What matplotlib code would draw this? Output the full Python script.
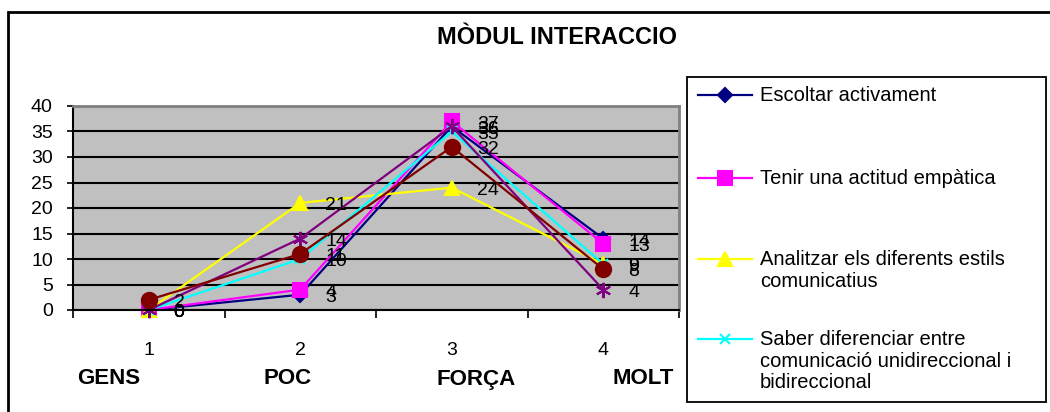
import matplotlib
matplotlib.use("Agg")
import matplotlib.pyplot as plt
from matplotlib.patches import Rectangle

plt.rcParams['font.family'] = ['Liberation Sans', 'DejaVu Sans']

categories = [1, 2, 3, 4]
cat_names = ["GENS", "POC", "FORÇA", "MOLT"]

escoltar = [0, 3, 36, 14]
empatica = [0, 4, 37, 13]
analitzar = [0, 21, 24, 9]
diferenciar = [0, 10, 35, 9]
serie5 = [0, 14, 36, 4]
serie6 = [2, 11, 32, 8]

labels = ["Escoltar activament",
          "Tenir una actitud empàtica",
          "Analitzar els diferents estils\ncomunicatius",
          "Saber diferenciar entre\ncomunicació unidireccional i\nbidireccional",
          "Serie 5", "Serie 6"]
series = [escoltar, empatica, analitzar, diferenciar, serie5, serie6]
colors = ["#000080", "#FF00FF", "#FFFF00", "#00FFFF", "#800080", "#800000"]
markers = ["D", "s", "^", "x", (6, 2, 0), "o"]
msizes = [7, 10.5, 10, 7, 11, 11]

fig = plt.figure(figsize=(10.5, 4.12), dpi=100)
ax = fig.add_axes([73/1050, 1-310/412, 606/1050, 204/412])
ax.set_facecolor("#C0C0C0")

handles = []
for vals, lab, c, m, ms in zip(series, labels, colors, markers, msizes):
    h, = ax.plot(categories, vals, color=c, marker=m, markersize=ms,
                 markeredgewidth=1.5, lw=1.6, label=lab, clip_on=False)
    handles.append(h)
    for x, v in zip(categories, vals):
        ax.annotate(str(v), (x, v), xytext=(18, -2), textcoords="offset points",
                    fontsize=14, va="center", ha="left")

ax.set_xlim(0.5, 4.5)
ax.set_ylim(0, 40)
ax.set_yticks(range(0, 41, 5))
ax.set_xticks(categories)
ax.set_xticklabels([str(c) for c in categories])
ax.set_xticks([0.5, 1.5, 2.5, 3.5, 4.5], minor=True)
ax.tick_params(axis="x", which="major", length=0, pad=23, labelsize=14)
ax.tick_params(axis="x", which="minor", length=6, width=1.2, direction="out")
ax.tick_params(axis="y", length=4.5, width=1.2, labelsize=14, pad=10)
ax.yaxis.grid(True, color="black", lw=1.5)
ax.set_axisbelow(True)
for s in ["top", "right"]:
    ax.spines[s].set_color("#808080")
    ax.spines[s].set_linewidth(2)
for s in ["left", "bottom"]:
    ax.spines[s].set_linewidth(1.5)

for name, xp in zip(cat_names, [109, 288, 476, 643]):
    fig.text(xp/1050, 1-379/412, name, fontsize=16, fontweight="bold",
             ha="center", va="center")

fig.text(557/1050, 1-37/412, "MÒDUL INTERACCIO", fontsize=17,
         fontweight="bold", ha="center", va="center")

# marc del gràfic
fig.patches.append(Rectangle((8/1050, -0.02), 1.1, 1-12/412+0.02,
                             transform=fig.transFigure, fill=False,
                             edgecolor="black", lw=2))

# llegenda estil Excel: el símbol al costat de la primera línia
fig.patches.append(Rectangle((687/1050, 1-402/412), 359/1050, 325/412,
                             transform=fig.transFigure, fill=False,
                             edgecolor="black", lw=1.3))
entry_y = [97, 180, 261, 341]
for h, lab, yy in zip(handles[:4], labels[:4], entry_y):
    fig.legend([h], [""], loc="center", bbox_to_anchor=(725/1050, 1-yy/412),
               frameon=False, fontsize=14.5, handlelength=2.65,
               handletextpad=0, borderpad=0, borderaxespad=0)
    fig.text(760/1050, 1-(yy-11)/412, lab, fontsize=14.5, ha="left",
             va="top", linespacing=1.17)

fig.savefig("out.png", dpi=100)
